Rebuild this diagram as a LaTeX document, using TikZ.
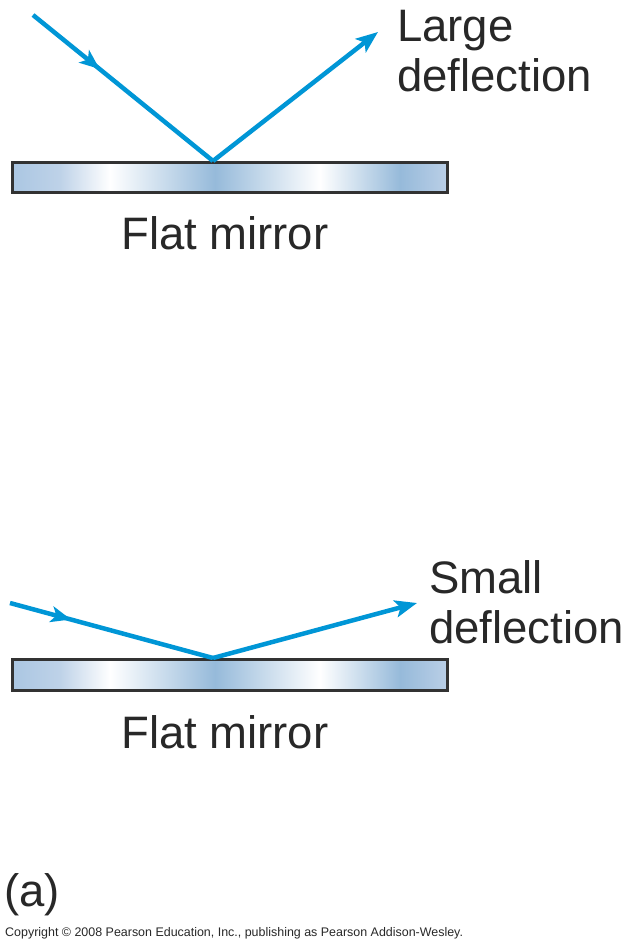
\documentclass[tikz,border=0pt]{standalone}
\usepackage{fontspec}
\setmainfont{Liberation Sans}
\usetikzlibrary{arrows.meta,decorations.markings}
\definecolor{raycol}{RGB}{0,150,214}
\definecolor{txtcol}{RGB}{40,40,40}
\definecolor{mA}{RGB}{170,198,226}
\definecolor{mB}{RGB}{190,210,232}
\definecolor{mW}{RGB}{255,255,255}
\definecolor{mC}{RGB}{150,186,218}
\definecolor{mE}{RGB}{185,206,230}
\definecolor{edgecol}{RGB}{50,50,50}
\tikzset{
  ray/.style={draw=raycol, line width=4.5pt},
  endtip/.style={-{Stealth[length=22pt,width=17pt,inset=5pt]}},
  midtip/.style={postaction={decorate},decoration={markings,
     mark=at position #1 with {\arrow{Stealth[length=20pt,width=16pt,inset=5pt]}}}},
  lbl/.style={font=\fontsize{45.5}{50}\selectfont, text=txtcol, inner sep=0pt, align=left},
  mirroredge/.style={draw=edgecol, line width=2.6pt},
}
\newcommand{\mirrorshade}[2]{% #1 = top y, #2 = bottom y
  \shade[left color=mA, right color=mB] (11,#1) rectangle (60,#2);
  \shade[left color=mB, right color=mW] (60,#1) rectangle (110,#2);
  \shade[left color=mW, right color=mC] (110,#1) rectangle (215,#2);
  \shade[left color=mC, right color=mW] (215,#1) rectangle (320,#2);
  \shade[left color=mW, right color=mC] (320,#1) rectangle (400,#2);
  \shade[left color=mC, right color=mE] (400,#1) rectangle (446,#2);
}
\begin{document}
\begin{tikzpicture}[x=1pt,y=-1pt]
\useasboundingbox[fill=white] (0,0) rectangle (633,947);

% ---------- top ----------
\mirrorshade{161}{191}
\node[mirroredge, rectangle, minimum width=435pt, minimum height=30pt, inner sep=0pt, anchor=north west] (m1) at (11,161) {};
\coordinate (s1) at (33,15);
\coordinate (h1) at (213,161);
\coordinate (e1) at (378,32);
\draw[ray, midtip=0.37] (s1) -- (h1);
\draw[ray, endtip] (h1) -- (e1);
\node[lbl, anchor=base west] (t1) at (397,92) {Large\\deflection};
\node[lbl, anchor=base west] (f1) at (121,249) {Flat mirror};

% ---------- bottom ----------
\mirrorshade{658}{689}
\node[mirroredge, rectangle, minimum width=435pt, minimum height=31pt, inner sep=0pt, anchor=north west] (m2) at (11,658) {};
\coordinate (s2) at (10,603);
\coordinate (h2) at (213,658);
\coordinate (e2) at (417,603);
\draw[ray, midtip=0.3] (s2) -- (h2);
\draw[ray, endtip] (h2) -- (e2);
\node[lbl, anchor=base west] (t2) at (429,643) {Small\\deflection};
\node[lbl, anchor=base west] (f2) at (121,748) {Flat mirror};

% ---------- caption ----------
\node[lbl, anchor=base west] (a) at (4,906) {(a)};
\node[font=\fontsize{12.45}{14}\selectfont, text=txtcol, inner sep=0pt, anchor=base west] (cp) at (5,936) {Copyright \textcopyright\ 2008 Pearson Education, Inc., publishing as Pearson Addison-Wesley.};
\end{tikzpicture}
\end{document}
